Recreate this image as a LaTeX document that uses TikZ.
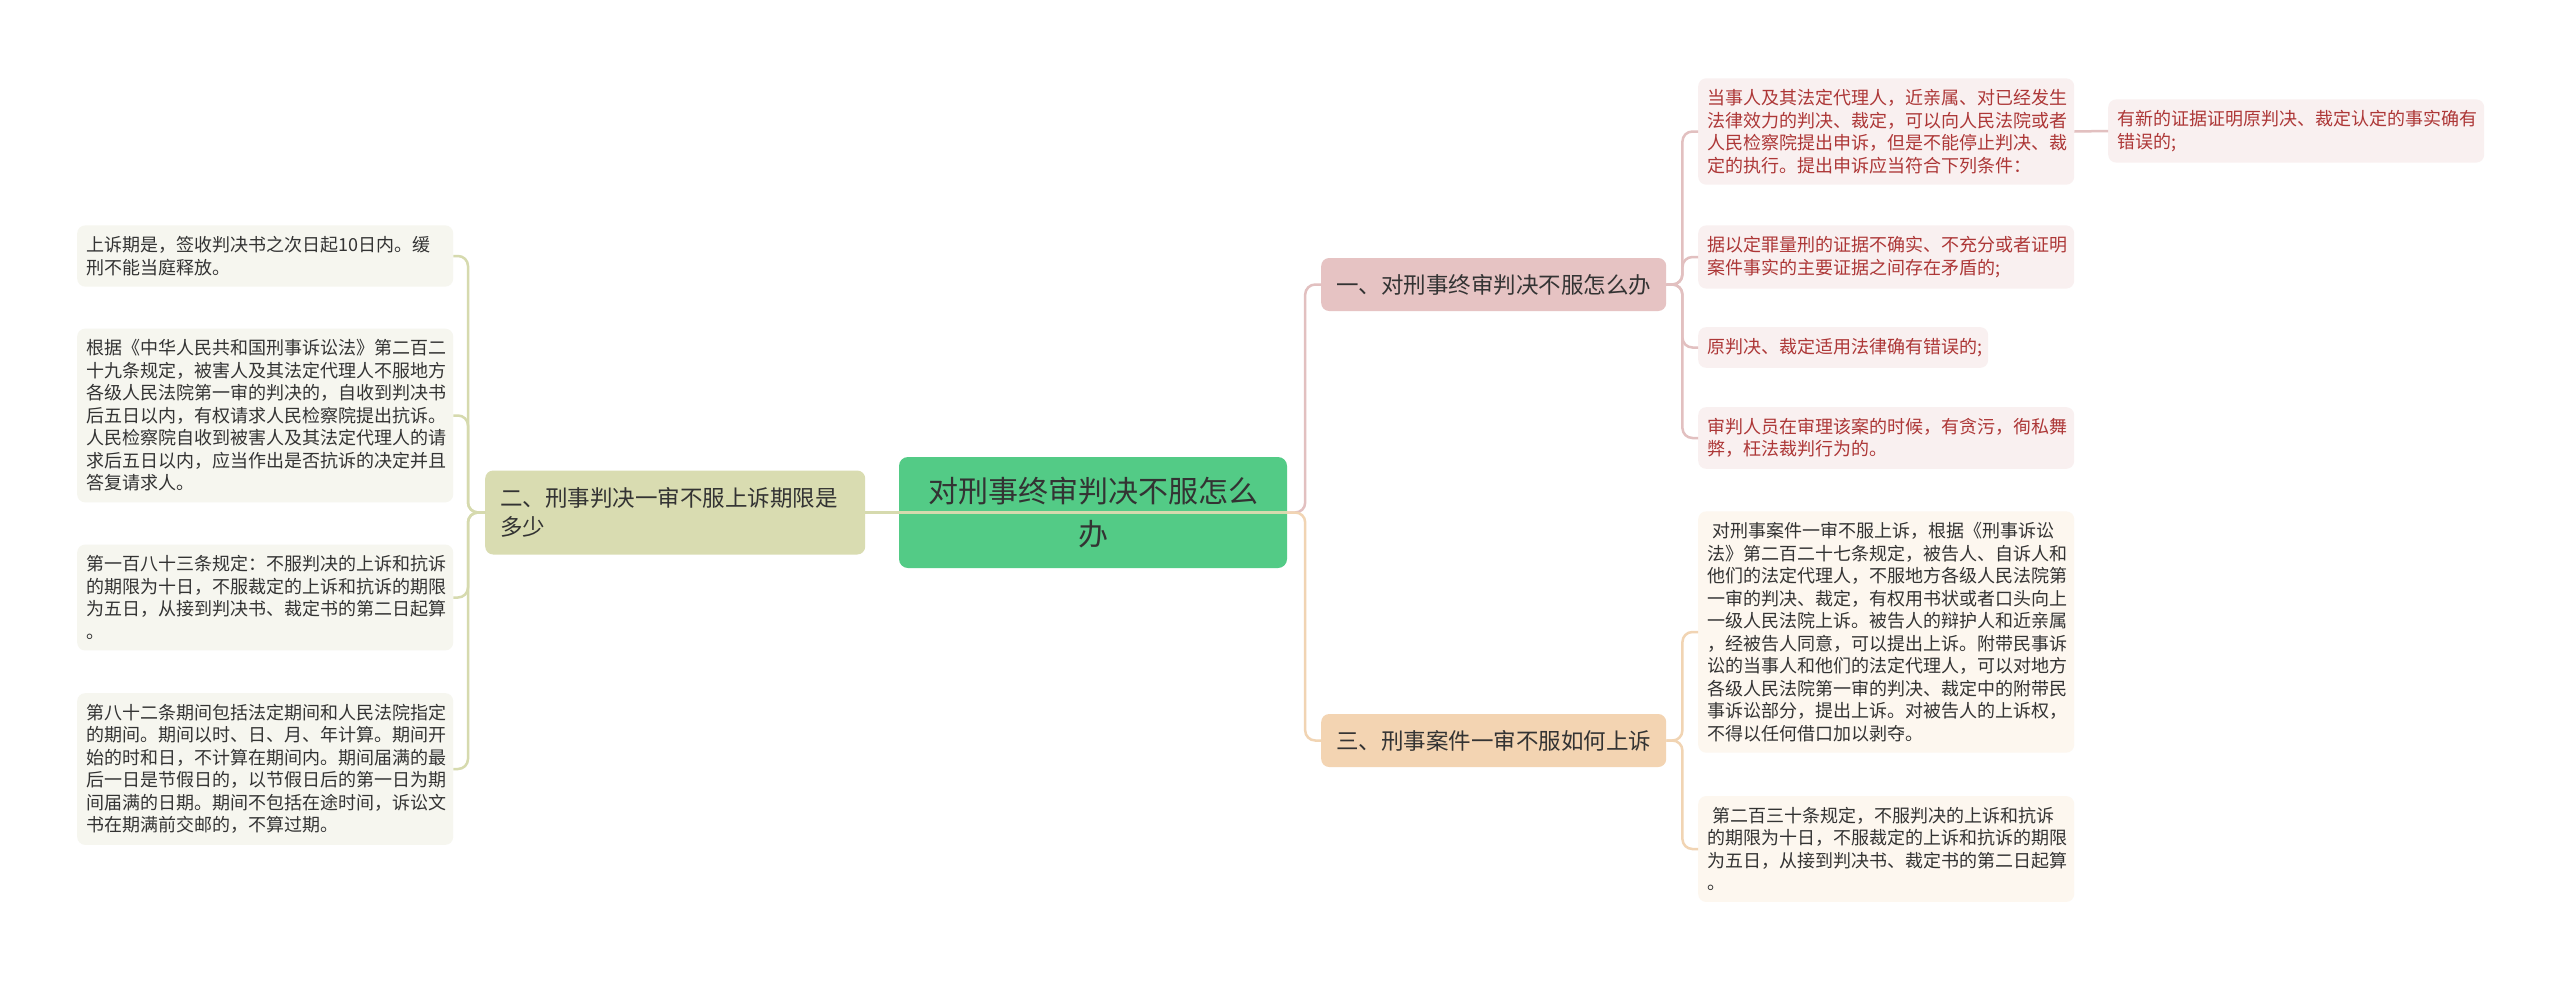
\documentclass[tikz,border=0pt]{standalone}
\usepackage{fontspec}
\setmainfont{Noto Sans CJK SC}
\usepackage{tikz}
\definecolor{rootgreen}{HTML}{53CB86}
\definecolor{olivebox}{HTML}{D9DCB1}
\definecolor{oliveleaf}{HTML}{F6F6EF}
\definecolor{oliveline}{HTML}{D6DAAE}
\definecolor{rosebox}{HTML}{E6C3C3}
\definecolor{roseleaf}{HTML}{F9F0F0}
\definecolor{roseline}{HTML}{E2C0C0}
\definecolor{rosetext}{HTML}{AD3737}
\definecolor{sandbox}{HTML}{F3D4B2}
\definecolor{sandleaf}{HTML}{FDF7EF}
\definecolor{sandline}{HTML}{F1D4B3}
\definecolor{inkgray}{HTML}{333333}

\begin{document}
\begin{tikzpicture}[x=1bp, y=-1bp,
    leaf/.style={anchor=west, rounded corners=8bp, inner xsep=9bp, inner ysep=11bp,
                 text width=358bp, align=left, text=inkgray,
                 font=\fontsize{18bp}{22.5bp}\selectfont},
    lleaf/.style={leaf, fill=oliveleaf},
    pleaf/.style={leaf, fill=roseleaf, text=rosetext},
    oleaf/.style={leaf, fill=sandleaf},
    branch/.style={anchor=west, rounded corners=8bp, minimum width=345bp, minimum height=53bp,
                   inner xsep=11bp, text=inkgray, font=\fontsize{22.5bp}{29bp}\selectfont},
    root/.style={rounded corners=9bp, fill=rootgreen, minimum width=388bp, minimum height=111bp,
                 text width=370bp, align=center, text=inkgray,
                 font=\fontsize{30bp}{43bp}\selectfont},
    link/.style={line width=2.5bp, rounded corners=10bp},
    lline/.style={link, oliveline},
    pline/.style={link, roseline},
    oline/.style={link, sandline}]

    \useasboundingbox[fill=white] (0,0) rectangle (2560,981);

    % centre
    \node[root] (c) at (1093,512.5) {对刑事终审判决不服怎么\\办};

    % --- left side ------------------------------------------------------
    \node[branch, fill=olivebox, minimum width=380bp, minimum height=84bp, text width=350bp,
          inner xsep=15bp, align=left] (lb) at (485,512.5)
      {二、刑事判决一审不服上诉期限是\\多少};
    \node[lleaf] (l1) at (77,256)
      {上诉期是，签收判决书之次日起10日内。缓\\刑不能当庭释放。};
    \node[lleaf] (l2) at (77,415.5)
      {根据《中华人民共和国刑事诉讼法》第二百二\\十九条规定，被害人及其法定代理人不服地方\\各级人民法院第一审的判决的，自收到判决书\\后五日以内，有权请求人民检察院提出抗诉。\\人民检察院自收到被害人及其法定代理人的请\\求后五日以内，应当作出是否抗诉的决定并且\\答复请求人。};
    \node[lleaf] (l3) at (77,597.5)
      {第一百八十三条规定：不服判决的上诉和抗诉\\的期限为十日，不服裁定的上诉和抗诉的期限\\为五日，从接到判决书、裁定书的第二日起算\\。};
    \node[lleaf] (l4) at (77,769)
      {第八十二条期间包括法定期间和人民法院指定\\的期间。期间以时、日、月、年计算。期间开\\始的时和日，不计算在期间内。期间届满的最\\后一日是节假日的，以节假日后的第一日为期\\间届满的日期。期间不包括在途时间，诉讼文\\书在期满前交邮的，不算过期。};

    % --- right side, branch one ----------------------------------------
    \node[branch, fill=rosebox] (b1) at (1321,284.5) {一、对刑事终审判决不服怎么办};
    \node[pleaf] (r1a) at (1698,131.5)
      {当事人及其法定代理人，近亲属、对已经发生\\法律效力的判决、裁定，可以向人民法院或者\\人民检察院提出申诉，但是不能停止判决、裁\\定的执行。提出申诉应当符合下列条件：};
    \node[pleaf] (r1e) at (2108,131)
      {有新的证据证明原判决、裁定认定的事实确有\\错误的;};
    \node[pleaf] (r1b) at (1698,257)
      {据以定罪量刑的证据不确实、不充分或者证明\\案件事实的主要证据之间存在矛盾的;};
    \node[pleaf, text width=272bp] (r1c) at (1698,347.5)
      {原判决、裁定适用法律确有错误的;};
    \node[pleaf] (r1d) at (1698,438)
      {审判人员在审理该案的时候，有贪污，徇私舞\\弊，枉法裁判行为的。};

    % --- right side, branch three --------------------------------------
    \node[branch, fill=sandbox] (b3) at (1321,740.5) {三、刑事案件一审不服如何上诉};
    \node[oleaf] (r3a) at (1698,632)
      {\hspace*{5bp}对刑事案件一审不服上诉，根据《刑事诉讼\\法》第二百二十七条规定，被告人、自诉人和\\他们的法定代理人，不服地方各级人民法院第\\一审的判决、裁定，有权用书状或者口头向上\\一级人民法院上诉。被告人的辩护人和近亲属\\，经被告人同意，可以提出上诉。附带民事诉\\讼的当事人和他们的法定代理人，可以对地方\\各级人民法院第一审的判决、裁定中的附带民\\事诉讼部分，提出上诉。对被告人的上诉权，\\不得以任何借口加以剥夺。};
    \node[oleaf] (r3b) at (1698,849)
      {\hspace*{5bp}第二百三十条规定，不服判决的上诉和抗诉\\的期限为十日，不服裁定的上诉和抗诉的期限\\为五日，从接到判决书、裁定书的第二日起算\\。};

    % connectors
    \draw[lline] (lb.east) -- (c.east);
    \foreach \n in {l1,l2,l3,l4}
      \draw[lline] (lb.west) -- ++(-17,0) |- (\n.east);
    \draw[pline] (c.east) -- ++(18,0) |- (b1.west);
    \draw[oline] (c.east) -- ++(18,0) |- (b3.west);
    \foreach \n in {r1a,r1b,r1c,r1d}
      \draw[pline] (b1.east) -- ++(16,0) |- (\n.west);
    \draw[pline] (r1a.east) -- (r1e.west);
    \foreach \n in {r3a,r3b}
      \draw[oline] (b3.east) -- ++(16,0) |- (\n.west);
\end{tikzpicture}
\end{document}
